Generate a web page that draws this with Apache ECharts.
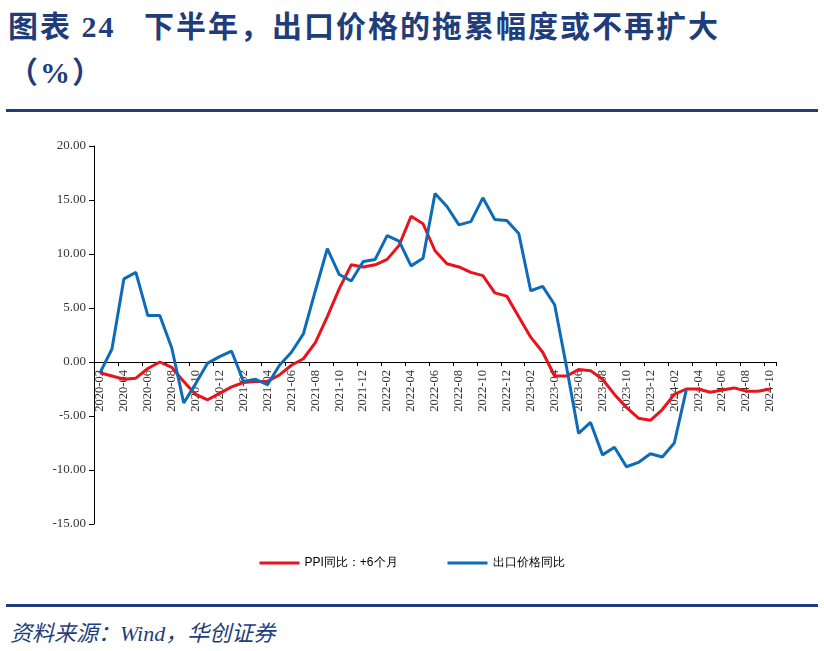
<!DOCTYPE html>
<html><head><meta charset="utf-8">
<script src="https://cdn.jsdelivr.net/npm/echarts@6/dist/echarts.min.js"></script>
<style>
body{margin:0;width:824px;height:651px;background:#fff;position:relative;overflow:hidden}
#t{position:absolute;left:8px;top:4px;color:#1f3d7a;font-weight:bold;font-size:30px;letter-spacing:2px;line-height:46px;font-family:"Liberation Serif","Noto Sans CJK SC",serif}
#l1{position:absolute;left:6px;top:109px;width:812px;height:3px;background:#1f3d7a}
#l2{position:absolute;left:6px;top:604px;width:812px;height:3px;background:#1f3d7a}
#s{position:absolute;left:10px;top:615px;font-size:22px;font-style:italic;color:#1f3d7a;font-family:"Liberation Serif","Noto Sans CJK SC",serif}
#c{position:absolute;left:0;top:120px;width:824px;height:480px}
</style></head><body>
<div id="t">图表 24&nbsp;&nbsp;&nbsp;下半年，出口价格的拖累幅度或不再扩大<br>（%）</div>
<div id="l1"></div>
<div id="c"></div>
<div id="l2"></div>
<div id="s">资料来源：Wind，华创证券</div>
<script>
const months=[];for(let y=2020;y<=2024;y++)for(let m=1;m<=12;m++){const k=y+'-'+String(m).padStart(2,'0');if(k>='2020-02'&&k<='2024-10')months.push(k);}
const ppi=[-1.0,-1.3,-1.6,-1.5,-0.6,0.0,-0.5,-1.8,-3.0,-3.5,-2.9,-2.3,-1.9,-1.8,-1.8,-1.2,-0.3,0.3,1.8,4.2,6.8,9.0,8.8,9.0,9.5,10.8,13.5,12.8,10.3,9.1,8.8,8.3,8.0,6.4,6.1,4.2,2.3,0.9,-1.3,-1.3,-0.7,-0.8,-1.6,-3.0,-4.2,-5.2,-5.4,-4.4,-3.0,-2.5,-2.5,-2.8,-2.6,-2.4,-2.7,-2.7,-2.5];
const exportPrice=[-1.0,1.2,7.7,8.3,4.3,4.3,1.3,-3.8,-2.0,-0.1,0.5,1.0,-1.8,-1.6,-2.1,-0.3,0.9,2.6,6.6,10.5,8.1,7.5,9.3,9.5,11.7,11.2,8.9,9.6,15.6,14.4,12.7,13.0,15.2,13.2,13.1,11.9,6.6,7.0,5.3,-0.5,-6.6,-5.6,-8.6,-7.9,-9.7,-9.3,-8.5,-8.8,-7.5,-2.6];
const gridH=378;
const ch=echarts.init(document.getElementById('c'));
ch.setOption({animation:false,
grid:{left:94,right:48,top:26,bottom:76},
legend:{top:432,itemWidth:40,itemHeight:3,itemGap:50,icon:'rect',textStyle:{fontSize:12,color:'#000'},data:['PPI同比：+6个月','出口价格同比']},
xAxis:{type:'category',data:months,boundaryGap:true,offset:-gridH*15/35,axisLine:{onZero:false,lineStyle:{color:'#000'}},axisTick:{show:true,interval:1,inside:false,length:4,lineStyle:{color:'#000'}},
axisLabel:{interval:1,rotate:90,fontSize:12.5,color:'#333',fontFamily:'Liberation Serif'}},
yAxis:{type:'value',min:-15,max:20,interval:5,splitLine:{show:false},axisLine:{show:true,lineStyle:{color:'#000'}},axisTick:{show:true,inside:false,lineStyle:{color:'#000'}},
axisLabel:{formatter:v=>v.toFixed(2),fontSize:13,color:'#333',fontFamily:'Liberation Serif'}},
series:[{name:'PPI同比：+6个月',type:'line',data:ppi,symbol:'none',lineStyle:{width:3,color:'#e8141c'},itemStyle:{color:'#e8141c'}},
{name:'出口价格同比',type:'line',data:exportPrice,symbol:'none',lineStyle:{width:3,color:'#0e6bb8'},itemStyle:{color:'#0e6bb8'}}]});
</script></body></html>
